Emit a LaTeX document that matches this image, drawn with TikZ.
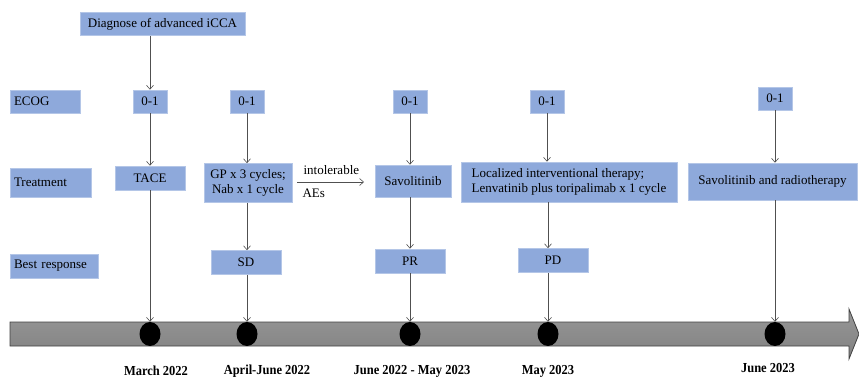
\documentclass[tikz,border=0pt]{standalone}
\usepackage{fontspec}
\setmainfont{Liberation Serif}
\usetikzlibrary{arrows.meta,shapes.geometric}
\definecolor{boxblue}{RGB}{142,169,219}
\definecolor{boxedge}{RGB}{180,198,231}
\definecolor{linegray}{RGB}{80,80,80}
\definecolor{bartop}{RGB}{152,152,152}
\definecolor{barbot}{RGB}{128,128,128}
\begin{document}
\begin{tikzpicture}[x=1pt,y=-1pt,
  bx/.style={fill=boxblue,draw=boxedge,line width=0.6pt,inner sep=0pt,font=\fontsize{13}{15}\selectfont},
  conn/.style={draw=linegray,line width=0.6pt,-{Straight Barb[length=4pt,width=7pt,line width=0.6pt]}},
  dot/.style={ellipse,fill=black,minimum width=21pt,minimum height=24pt,inner sep=0pt},
  date/.style={font=\bfseries\fontsize{12.5}{14}\selectfont,yscale=1.1}]
\useasboundingbox (0,0) rectangle (859,378);
% timeline bar
\shade[top color=bartop,bottom color=barbot,draw=black!75,line width=0.8pt]
  (10,322) -- (849,322) -- (849,309) -- (859,334) -- (849,359) -- (849,346) -- (10,346) -- cycle;
% row labels
\node[bx,minimum width=165pt,minimum height=23pt] (diag) at (162.5,24) {Diagnose of advanced iCCA};
\node[bx,minimum width=70pt,minimum height=23pt,align=left,text width=62pt] (ecog) at (45,101.5) {ECOG};
\node[bx,minimum width=81pt,minimum height=29pt,align=left,text width=73pt] (treat) at (50.5,182.5) {Treatment};
\node[bx,minimum width=88pt,minimum height=24pt,align=left,text width=80pt] (best) at (54,266) {Best response};
% ECOG boxes
\node[bx,minimum width=34pt,minimum height=23pt] (e1) at (150,101.5) {0-1};
\node[bx,minimum width=34pt,minimum height=23pt] (e2) at (247,101.5) {0-1};
\node[bx,minimum width=34pt,minimum height=23pt] (e3) at (410,101.5) {0-1};
\node[bx,minimum width=34pt,minimum height=23pt] (e4) at (547,101.5) {0-1};
\node[bx,minimum width=34pt,minimum height=23pt] (e5) at (775,98.5) {0-1};
% treatment boxes
\node[bx,minimum width=70pt,minimum height=24pt] (t1) at (150,178) {TACE};
\node[bx,minimum width=88pt,minimum height=39pt,align=center] (t2) at (248,183) {GP x 3 cycles;\\Nab x 1 cycle};
\node[bx,minimum width=76pt,minimum height=32pt] (t3) at (413,181) {Savolitinib};
\node[bx,minimum width=216pt,minimum height=40pt,align=left] (t4) at (569,182) {Localized interventional therapy;\\Lenvatinib plus toripalimab x 1 cycle};
\node[bx,minimum width=169pt,minimum height=37pt] (t5) at (772.5,181.5) {Savolitinib and radiotherapy};
% response boxes
\node[bx,minimum width=70pt,minimum height=24pt] (r2) at (246,262.5) {SD};
\node[bx,minimum width=70pt,minimum height=24pt] (r3) at (410,261) {PR};
\node[bx,minimum width=70pt,minimum height=24pt] (r4) at (553,260.5) {PD};
% dots
\node[dot] (d1) at (150,334) {};
\node[dot] (d2) at (247,334) {};
\node[dot] (d3) at (410,334) {};
\node[dot] (d4) at (548,334) {};
\node[dot] (d5) at (775,334) {};
% dates
\node[date] (m1) at (156,371) {March 2022};
\node[date] (m2) at (267,371) {April-June 2022};
\node[date] (m3) at (412,371) {June 2022 - May 2023};
\node[date] (m4) at (548,371) {May 2023};
\node[date] (m5) at (768,368) {June 2023};
% connectors
\draw[conn] (diag.south -| e1) -- (e1.north);
\draw[conn] (e1) -- (t1);
\draw[conn] (t1.south) -- (d1.north);
\draw[conn] (e2.south) -- (e2.south |- t2.north);
\draw[conn] (t2.south -| d2) -- (d2 |- r2.north);
\draw[conn] (d2 |- r2.south) -- (d2.north);
\draw[conn] (e3.south) -- (e3.south |- t3.north);
\draw[conn] (t3.south -| r3) -- (r3.north);
\draw[conn] (r3.south) -- (d3.north);
\draw[conn] (e4.south) -- (e4.south |- t4.north);
\draw[conn] (t4.south -| d4) -- (d4 |- r4.north);
\draw[conn] (d4 |- r4.south) -- (d4.north);
\draw[conn] (e5.south) -- (e5.south |- t5.north);
\draw[conn] (t5.south -| d5) -- (d5.north);
% intolerable AEs
\coordinate (a1) at (297,182);
\coordinate (a2) at (364,182);
\draw[conn] (a1) -- (a2);
\node[font=\fontsize{13}{15}\selectfont,anchor=west] (intol) at (300,170) {intolerable};
\node[font=\fontsize{13}{15}\selectfont,anchor=west] (aes) at (299,193) {AEs};
\end{tikzpicture}
\end{document}
